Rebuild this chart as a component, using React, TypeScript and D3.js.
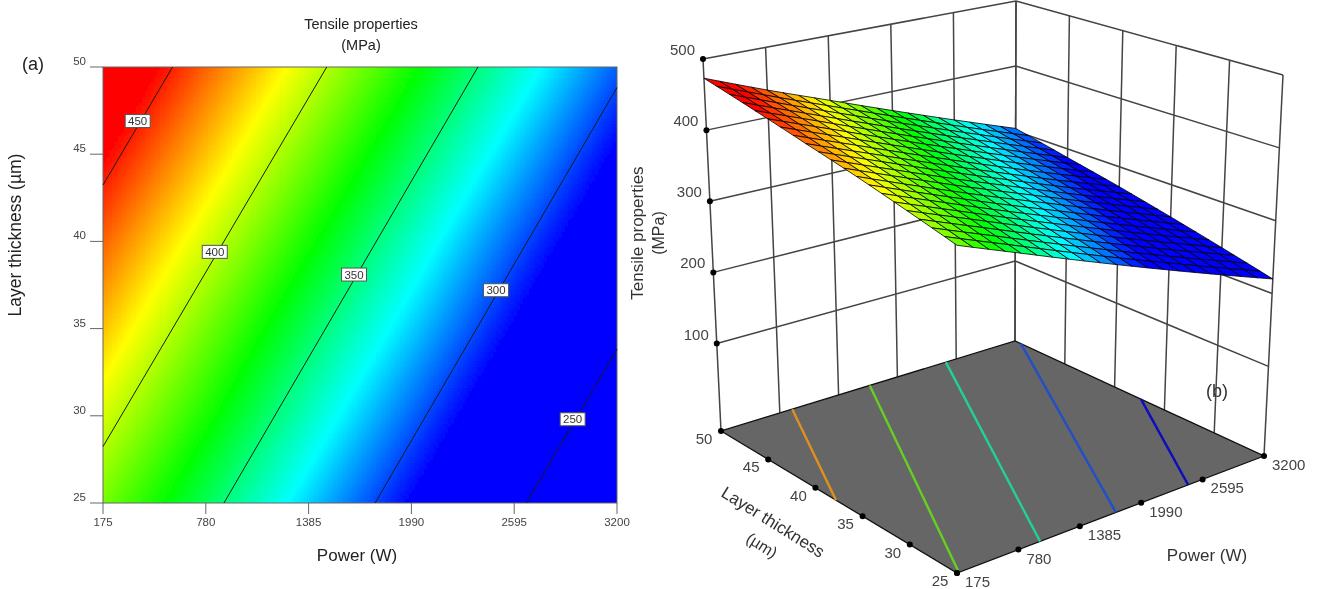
import * as d3 from "d3";

const powerTicks = [175, 780, 1385, 1990, 2595, 3200];
const layerTicks = [25, 30, 35, 40, 45, 50];
const strengthTicks = [100, 200, 300, 400, 500];

// tensile strength read at each tick crossing, one row per layer thickness
const tensileAt25 = [389, 356, 322, 288, 254, 220];
const tensileAt30 = [406, 373, 339, 305, 271, 237];
const tensileAt35 = [423, 389, 355, 322, 288, 254];
const tensileAt40 = [439, 406, 372, 338, 304, 271];
const tensileAt45 = [456, 423, 389, 355, 321, 287];
const tensileAt50 = [473, 439, 406, 372, 338, 304];
const tensileRows = [tensileAt25, tensileAt30, tensileAt35, tensileAt40, tensileAt45, tensileAt50];

const contourLevels = [450, 400, 350, 300, 250];
const contourLabelLayer = [46.9, 39.4, 38.1, 37.2, 29.8];

const floorLevels = [432, 388, 344, 302, 262];
const floorColors = ["#e0901e", "#66d022", "#20d09a", "#2050c8", "#0c0cc0"];

const rampValues = [289, 329, 369, 413, 455];
const rampColors = ["#0000ff", "#00ffff", "#00ff00", "#ffff00", "#ff0000"];

const color = d3.scaleLinear<string>().domain(rampValues).range(rampColors).clamp(true);

// value at any power/layer, blended between the table rows
function tensile(power: number, layer: number) {
  const i = Math.min(d3.bisectRight(powerTicks, power) - 1, powerTicks.length - 2);
  const j = Math.min(d3.bisectRight(layerTicks, layer) - 1, layerTicks.length - 2);
  const s = (power - powerTicks[i]) / (powerTicks[i + 1] - powerTicks[i]);
  const t = (layer - layerTicks[j]) / (layerTicks[j + 1] - layerTicks[j]);
  const low = tensileRows[j][i] * (1 - s) + tensileRows[j][i + 1] * s;
  const high = tensileRows[j + 1][i] * (1 - s) + tensileRows[j + 1][i + 1] * s;
  return low * (1 - t) + high * t;
}

// the two points where a level crosses the edge of the power/layer rectangle
function crossings(level: number) {
  const pMin = powerTicks[0];
  const pMax = powerTicks[5];
  const lMin = layerTicks[0];
  const lMax = layerTicks[5];
  const edge = [
    ...powerTicks.map((p) => [p, lMin]),
    ...layerTicks.slice(1).map((l) => [pMax, l]),
    ...powerTicks.slice(0, 5).reverse().map((p) => [p, lMax]),
    ...layerTicks.slice(0, 5).reverse().map((l) => [pMin, l]),
  ];
  const found: number[][] = [];
  for (let k = 0; k < edge.length - 1; k++) {
    const a = tensile(edge[k][0], edge[k][1]);
    const b = tensile(edge[k + 1][0], edge[k + 1][1]);
    if ((a - level) * (b - level) <= 0 && a !== b) {
      const t = (level - a) / (b - a);
      found.push([
        edge[k][0] + (edge[k + 1][0] - edge[k][0]) * t,
        edge[k][1] + (edge[k + 1][1] - edge[k][1]) * t,
      ]);
    }
  }
  return [found[0], found[found.length - 1]];
}

// left panel scales
const x = d3.scaleLinear().domain([175, 3200]).range([103, 617]);
const y = d3.scaleLinear().domain([25, 50]).range([503, 67]);

// right panel: box corners on screen
const floorA = [721, 431];
const floorB = [957, 573];
const floorC = [1264, 456];
const floorD = [1015, 341];
const roofA = [703, 59];
const roofB = [957, 157];
const roofC = [1283, 75];
const roofD = [1016, 1];

const u = d3.scaleLinear().domain([175, 3200]).range([0, 1]);
const v = d3.scaleLinear().domain([50, 25]).range([0, 1]);
const w = d3.scaleLinear().domain([-23, 500]).range([0, 1]);
const zFloor = -23;

function cube(power: number, layer: number, value: number) {
  const a = u(power);
  const b = v(layer);
  const c = w(value);
  return [0, 1].map((n) => {
    const f =
      floorA[n] * (1 - a) * (1 - b) + floorD[n] * a * (1 - b) + floorB[n] * (1 - a) * b + floorC[n] * a * b;
    const r =
      roofA[n] * (1 - a) * (1 - b) + roofD[n] * a * (1 - b) + roofB[n] * (1 - a) * b + roofC[n] * a * b;
    return f * (1 - c) + r * c;
  });
}

const poly = (pts: number[][]) => pts.map((p) => p.join(",")).join(" ");
const wire = d3.line();

const sans = "'Liberation Sans', Arial, sans-serif";
const CELL = 3;
const MESH_P = 20;
const MESH_L = 20;

function HeatMap() {
  const cols = d3.range(103, 617, CELL);
  const rows = d3.range(67, 503, CELL);
  return (
    <g shapeRendering="crispEdges">
      {cols.map((cx) =>
        rows.map((cy) => (
          <rect
            key={cx + "_" + cy}
            x={cx}
            y={cy}
            width={Math.min(CELL + 0.5, 617 - cx)}
            height={Math.min(CELL + 0.5, 503 - cy)}
            fill={color(tensile(x.invert(Math.min(cx + CELL / 2, 617)), y.invert(Math.min(cy + CELL / 2, 503))))}
          />
        ))
      )}
    </g>
  );
}

function ContourPanel() {
  return (
    <g fontFamily={sans}>
      <HeatMap />
      <rect x={103} y={67} width={514} height={436} fill="none" stroke="#666" strokeWidth={1} />
      {contourLevels.map((level) => {
        const [p, q] = crossings(level);
        return (
          <line
            key={level}
            x1={x(p[0])}
            y1={y(p[1])}
            x2={x(q[0])}
            y2={y(q[1])}
            stroke="#1a1a1a"
            strokeWidth={1}
          />
        );
      })}
      {contourLevels.map((level, i) => {
        const [p, q] = crossings(level);
        const layer = contourLabelLayer[i];
        const power = p[0] + ((q[0] - p[0]) * (layer - p[1])) / (q[1] - p[1]);
        return (
          <g key={level} transform={`translate(${x(power) - 3},${y(layer)})`}>
            <rect x={-12.5} y={-6.5} width={25} height={13} fill="#fff" stroke="#555" strokeWidth={1} />
            <text textAnchor="middle" dy={4} fontSize={11.5} fill="#333">
              {level}
            </text>
          </g>
        );
      })}
      {powerTicks.map((t) => (
        <g key={t} transform={`translate(${x(t)},503)`}>
          <line y2={11} stroke="#666" />
          <text textAnchor="middle" y={23} fontSize={11.5} fill="#444">
            {t}
          </text>
        </g>
      ))}
      {layerTicks.map((t) => (
        <g key={t} transform={`translate(103,${y(t)})`}>
          <line x2={-13} stroke="#666" />
          <text textAnchor="end" x={-17} y={-2} fontSize={11.5} fill="#444">
            {t}
          </text>
        </g>
      ))}
      <text x={361} y={29} textAnchor="middle" fontSize={14.5} fill="#222">
        Tensile properties
      </text>
      <text x={361} y={50} textAnchor="middle" fontSize={14.5} fill="#222">
        (MPa)
      </text>
      <text x={33} y={70} textAnchor="middle" fontSize={18} fill="#222">
        (a)
      </text>
      <text x={357} y={561} textAnchor="middle" fontSize={17} fill="#222">
        Power (W)
      </text>
      <text transform="translate(21,235) rotate(-90)" textAnchor="middle" fontSize={17.5} fill="#222">
        Layer thickness (µm)
      </text>
    </g>
  );
}

function Walls() {
  const grid = "#444";
  const segment = (a: number[], b: number[], key: string, width = 1.5) => (
    <path key={key} d={wire([a as [number, number], b as [number, number]]) || ""} stroke={grid} strokeWidth={width} fill="none" />
  );
  const pMin = powerTicks[0];
  const pMax = powerTicks[5];
  const lMin = layerTicks[0];
  const lMax = layerTicks[5];
  return (
    <g>
      {powerTicks.map((p) => segment(cube(p, lMax, zFloor), cube(p, lMax, 500), "pv" + p))}
      {layerTicks.map((l) => segment(cube(pMax, l, zFloor), cube(pMax, l, 500), "lv" + l))}
      {strengthTicks.map((z) => segment(cube(pMin, lMax, z), cube(pMax, lMax, z), "zp" + z))}
      {strengthTicks.map((z) => segment(cube(pMax, lMax, z), cube(pMax, lMin, z), "zl" + z))}
    </g>
  );
}

function Floor() {
  const pMin = powerTicks[0];
  const pMax = powerTicks[5];
  const lMin = layerTicks[0];
  const lMax = layerTicks[5];
  const corners = [
    cube(pMin, lMax, zFloor),
    cube(pMin, lMin, zFloor),
    cube(pMax, lMin, zFloor),
    cube(pMax, lMax, zFloor),
  ];
  return (
    <g>
      <polygon points={poly(corners)} fill="#666666" stroke="#111" strokeWidth={1.3} />
      {floorLevels.map((level, i) => {
        const [p, q] = crossings(level);
        const a = cube(p[0], p[1], zFloor);
        const b = cube(q[0], q[1], zFloor);
        return <line key={level} x1={a[0]} y1={a[1]} x2={b[0]} y2={b[1]} stroke={floorColors[i]} strokeWidth={2.4} />;
      })}
    </g>
  );
}

function Surface() {
  const powers = d3.range(MESH_P + 1).map((i) => 175 + (i * 3025) / MESH_P);
  const layers = d3.range(MESH_L + 1).map((j) => 50 - (j * 25) / MESH_L);
  const at = (p: number, l: number) => cube(p, l, tensile(p, l));
  return (
    <g stroke="#000" strokeOpacity={0.8} strokeWidth={1} strokeLinejoin="round">
      {powers.slice(0, -1).map((p, i) =>
        layers.slice(0, -1).map((l, j) => {
          const p2 = powers[i + 1];
          const l2 = layers[j + 1];
          return (
            <polygon
              key={i + "_" + j}
              points={poly([at(p, l), at(p2, l), at(p2, l2), at(p, l2)])}
              fill={color(tensile((p + p2) / 2, (l + l2) / 2))}
            />
          );
        })
      )}
    </g>
  );
}

function TicksAndLabels() {
  const pMin = powerTicks[0];
  const lMax = layerTicks[5];
  const lMin = layerTicks[0];
  const dots = [
    ...strengthTicks.map((z) => cube(pMin, lMax, z)),
    ...layerTicks.map((l) => cube(pMin, l, zFloor)),
    ...powerTicks.map((p) => cube(p, lMin, zFloor)),
  ];
  const ink = "#444";
  return (
    <g fontFamily={sans} fontSize={15} fill={ink}>
      {dots.map((d, i) => (
        <circle key={i} cx={d[0]} cy={d[1]} r={3} fill="#000" />
      ))}
      {strengthTicks.map((z) => {
        const d = cube(pMin, lMax, z);
        return (
          <text key={z} x={d[0] - 8} y={d[1] - 4} textAnchor="end">
            {z}
          </text>
        );
      })}
      {layerTicks.map((l) => {
        const d = cube(pMin, l, zFloor);
        return (
          <text key={l} x={d[0] - 17} y={d[1] + 13} textAnchor="middle">
            {l}
          </text>
        );
      })}
      {powerTicks.map((p) => {
        const d = cube(p, lMin, zFloor);
        return (
          <text key={p} x={d[0] + 8} y={d[1] + 14}>
            {p}
          </text>
        );
      })}
      <g fontSize={17} fill="#333">
        <text transform="translate(643,233) rotate(-90)" textAnchor="middle">
          Tensile properties
        </text>
        <text transform="translate(664,233) rotate(-90)" textAnchor="middle" fontSize={16}>
          (MPa)
        </text>
        <text transform="translate(770,527) rotate(32)" textAnchor="middle">
          Layer thickness
        </text>
        <text transform="translate(759,550) rotate(32)" textAnchor="middle" fontSize={16}>
          (µm)
        </text>
        <text x={1207} y={561} textAnchor="middle">
          Power (W)
        </text>
        <text x={1217} y={397} textAnchor="middle" fontSize={18}>
          (b)
        </text>
      </g>
    </g>
  );
}

export default function App() {
  return (
    <svg
      width={1318}
      height={589}
      viewBox="0 0 1318 589"
      style={{ position: "absolute", left: 0, top: 0, display: "block", background: "#fff" }}
    >
      <defs>
        {/* the reference is a soft scan, so everything gets a slight blur */}
        <filter id="soft" filterUnits="userSpaceOnUse" x={0} y={0} width={1318} height={589}>
          <feGaussianBlur stdDeviation={0.45} />
        </filter>
      </defs>
      <g filter="url(#soft)">
        <ContourPanel />
        <Walls />
        <Floor />
        <Surface />
        <TicksAndLabels />
      </g>
    </svg>
  );
}
